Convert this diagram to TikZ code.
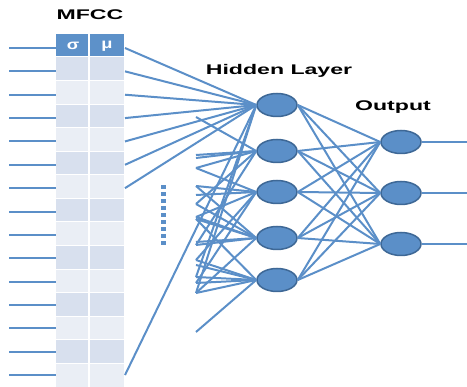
\documentclass[tikz,border=0pt]{standalone}
\usepackage{fontspec}
\usepackage{graphicx}
\usetikzlibrary{shapes.geometric}
\newfontfamily\labelfont{Liberation Sans}
\definecolor{netblue}{RGB}{91,143,200}
\definecolor{nodeedge}{RGB}{62,104,150}
\definecolor{rowdark}{RGB}{216,224,238}
\definecolor{rowlight}{RGB}{234,238,245}
\definecolor{headblue}{RGB}{93,145,201}
\tikzset{
  wire/.style={netblue, line width=2pt},
  neuron/.style={ellipse, draw=nodeedge, fill=netblue, line width=1.5pt,
    minimum width=40pt, minimum height=23pt, inner sep=0pt},
  title/.style={font=\labelfont\bfseries\fontsize{14}{16}\selectfont},
}
\begin{document}
\begin{tikzpicture}[x=1pt,y=-1pt]
    \useasboundingbox (0,0) rectangle (467,387);
    \fill[headblue] (56,34) rectangle (124,57);
    \foreach \r in {1,3,...,13}
        \fill[rowdark] (56,{57+(\r-1)*23.57}) rectangle (124,{57+\r*23.57});
    \foreach \r in {2,4,...,14}
        \fill[rowlight] (56,{57+(\r-1)*23.57}) rectangle (124,{57+\r*23.57});
    \foreach \r in {0,...,13}
        \draw[white, line width=1pt] (56,{57+\r*23.57}) -- (124,{57+\r*23.57});
    \draw[white, line width=1.2pt] (89,34) -- (89,387);
    \node[title, text=white] (sigma) at (73,46) {\scalebox{1.3}[1]{σ}};
    \node[title, text=white] (mu) at (107,46) {\scalebox{1.3}[1]{μ}};
    \node[title] (mfcc) at (90,15) {\scalebox{1.65}[1]{MFCC}};
    \node[title] (hidden) at (279,71) {\scalebox{1.65}[1]{Hidden Layer}};
    \node[title] (output) at (393,107) {\scalebox{1.65}[1]{Output}};
    \foreach \j in {0,...,14} {
        \coordinate (in\j) at (9,{48+\j*23.36});
        \coordinate (tl\j) at (56,{48+\j*23.36});
        \coordinate (tr\j) at (125,{48+\j*23.36});
        \draw[wire] (in\j) -- (tl\j);
    }
    \foreach \y [count=\i] in {105,151,192,238,280}
        \node[neuron] (h\i) at (277,\y) {};
    \foreach \y [count=\i] in {142,193,244} {
        \node[neuron] (o\i) at (401,\y) {};
        \coordinate (out\i) at (467,\y);
    }
    \foreach \y [count=\i] in {117,155,158,168,186,195,204,217,219,242,245,260,265,277,283,293,332}
        \coordinate (f\i) at (196,\y);
    \foreach \j in {0,...,6,14}
        \draw[wire] (tr\j) -- (h1.west);
    \foreach \h/\list in {1/{14,16}, 2/{1,2,3,4,7,11}, 3/{4,5,6,8,12,15},
                          4/{5,7,8,9,10,11,16}, 5/{9,12,13,14,15,16,17}}
        \foreach \k in \list
            \draw[wire] (f\k) -- (h\h.west);
    \foreach \i in {1,...,5}
        \foreach \o in {1,2,3}
            \draw[wire] (h\i.east) -- (o\o.west);
    \foreach \o in {1,2,3}
        \draw[wire] (o\o.east) -- (out\o);
    \foreach \y in {187,194,...,244}
        \fill[netblue] (160.5,{\y-2}) rectangle (165.5,{\y+2});
\end{tikzpicture}
\end{document}
